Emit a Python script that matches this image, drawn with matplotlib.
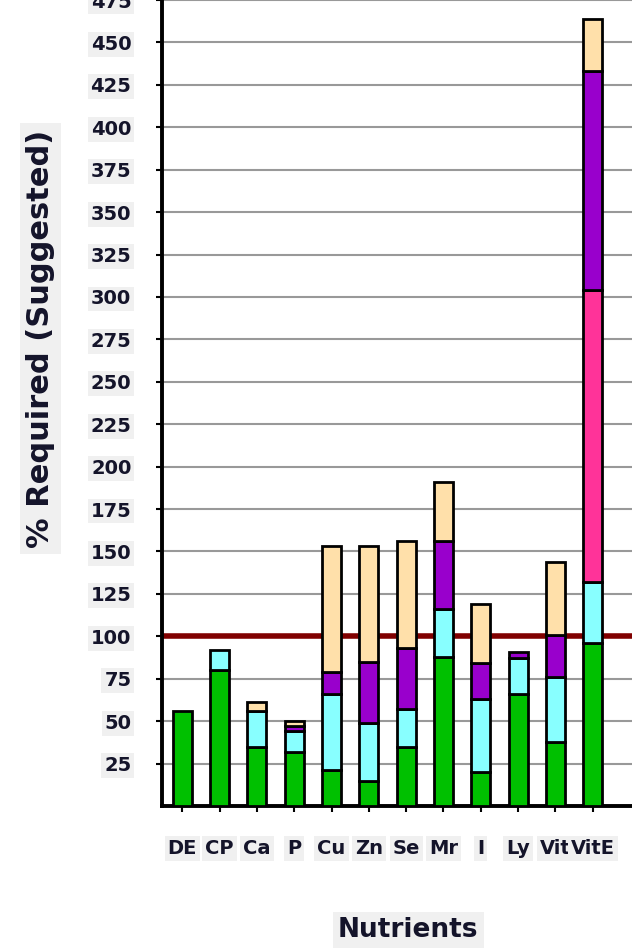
import numpy as np
import matplotlib
matplotlib.use("Agg")
import matplotlib.pyplot as plt

# nutrient categories and stacked contributions (% of requirement)
nutrients = ["DE", "CP", "Ca", "P", "Cu", "Zn", "Se", "Mr", "I", "Ly", "Vit", "VitE"]
green = [56, 80, 35, 32, 21, 15, 35, 88, 20, 66, 38, 96]
cyan = [0, 12, 21, 12, 45, 34, 22, 28, 43, 21, 38, 36]
pink = [0, 0, 0, 0, 0, 0, 0, 0, 0, 0, 0, 172]
purple = [0, 0, 0, 3, 13, 36, 36, 40, 21, 4, 25, 129]
peach = [0, 0, 5, 3, 74, 68, 63, 35, 35, 0, 43, 31]
required_line = 100
yticks = list(range(25, 476, 25))

layers = [
    (green, "#00C000"),
    (cyan, "#88FFFF"),
    (pink, "#FF3399"),
    (purple, "#9900CC"),
    (peach, "#FFE0AA"),
]

fig = plt.figure(figsize=(6.32, 9.48), dpi=100)
ax = fig.add_axes([0.2563, 0.1498, 0.77, 0.8502])

x = np.arange(len(nutrients))
bottom = np.zeros(len(nutrients))
for vals, col in layers:
    vals = np.array(vals, dtype=float)
    mask = vals > 0
    ax.bar(x[mask], vals[mask], bottom=bottom[mask], width=0.51,
           color=col, edgecolor="black", linewidth=2.0, zorder=3)
    bottom += vals

ax.axhline(required_line, color="#800000", linewidth=4, zorder=2)

ax.set_ylim(0, 475)
ax.set_xlim(-0.545, 12.5)
ax.set_yticks(yticks)
ax.yaxis.grid(True, color="#999999", linewidth=1.5, zorder=1)
ax.set_axisbelow(True)

for side in ["top", "right"]:
    ax.spines[side].set_visible(False)
ax.spines["left"].set_linewidth(2.8)
ax.spines["bottom"].set_linewidth(2.8)

txt_col = "#14142A"
lab_box = dict(boxstyle="square,pad=0.15", facecolor="#F0F0F0", edgecolor="none")
ax.set_xticks(x)
ax.set_xticklabels(nutrients, fontsize=14, fontweight="bold", color=txt_col)
for t in ax.get_xticklabels():
    t.set_bbox(lab_box)
ax.set_yticklabels([str(v) for v in yticks], fontsize=14, fontweight="bold",
                   color=txt_col)
for t in ax.get_yticklabels():
    t.set_bbox(lab_box)
ax.tick_params(axis="y", length=4, width=1.5, pad=18)
ax.tick_params(axis="x", length=4, width=1.5, pad=20)

fig.text(0.064, 0.643, "% Required (Suggested)", rotation=90, ha="center",
         va="center", fontsize=22, fontweight="bold", color=txt_col,
         bbox=dict(boxstyle="square,pad=0.2", facecolor="#F0F0F0", edgecolor="none"))
fig.text(0.646, 0.019, "Nutrients", ha="center", va="center", fontsize=19,
         fontweight="bold", color=txt_col,
         bbox=dict(boxstyle="square,pad=0.2", facecolor="#F0F0F0", edgecolor="none"))

fig.savefig("out.png", dpi=100)
